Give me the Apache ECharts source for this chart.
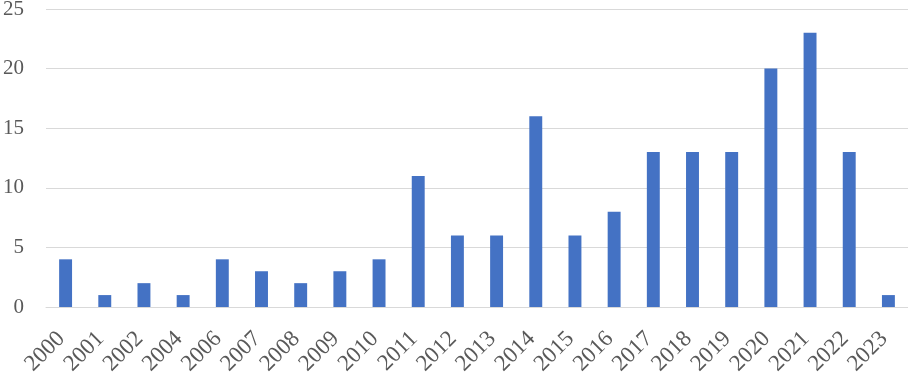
<!DOCTYPE html>
<html><head><meta charset="utf-8">
<script src="https://cdn.jsdelivr.net/npm/echarts@6/dist/echarts.min.js"></script>
<style>html,body{margin:0;padding:0;background:#fff}#c{width:908px;height:373px}</style>
</head><body><div id="c"></div>
<script>
var categories = ['2000','2001','2002','2004','2006','2007','2008','2009','2010','2011','2012','2013','2014','2015','2016','2017','2018','2019','2020','2021','2022','2023'];
var values = [4,1,2,1,4,3,2,3,4,11,6,6,16,6,8,13,13,13,20,23,13,1];
var yTicks = {min:0, max:25, interval:5};
var chart = echarts.init(document.getElementById('c'));
chart.setOption({
  animation:false,
  grid:{left:46, right:0, top:9, bottom:66, containLabel:false, outerBoundsMode:'none'},
  xAxis:{type:'category', data:categories,
    axisLine:{show:true, lineStyle:{color:'#d9d9d9', width:1}},
    axisTick:{show:false},
    axisLabel:{rotate:45, margin:24, padding:[0,6,0,0], interval:0, color:'#595959', fontFamily:'Liberation Serif', fontSize:23}
  },
  yAxis:{type:'value', min:yTicks.min, max:yTicks.max, interval:yTicks.interval,
    axisLine:{show:false}, axisTick:{show:false},
    splitLine:{lineStyle:{color:'#d9d9d9', width:1}},
    axisLabel:{margin:22, color:'#595959', fontFamily:'Liberation Serif', fontSize:21}
  },
  series:[{type:'bar', data:values, barWidth:'33%', itemStyle:{color:'#4472c4'}}]
});
</script></body></html>
